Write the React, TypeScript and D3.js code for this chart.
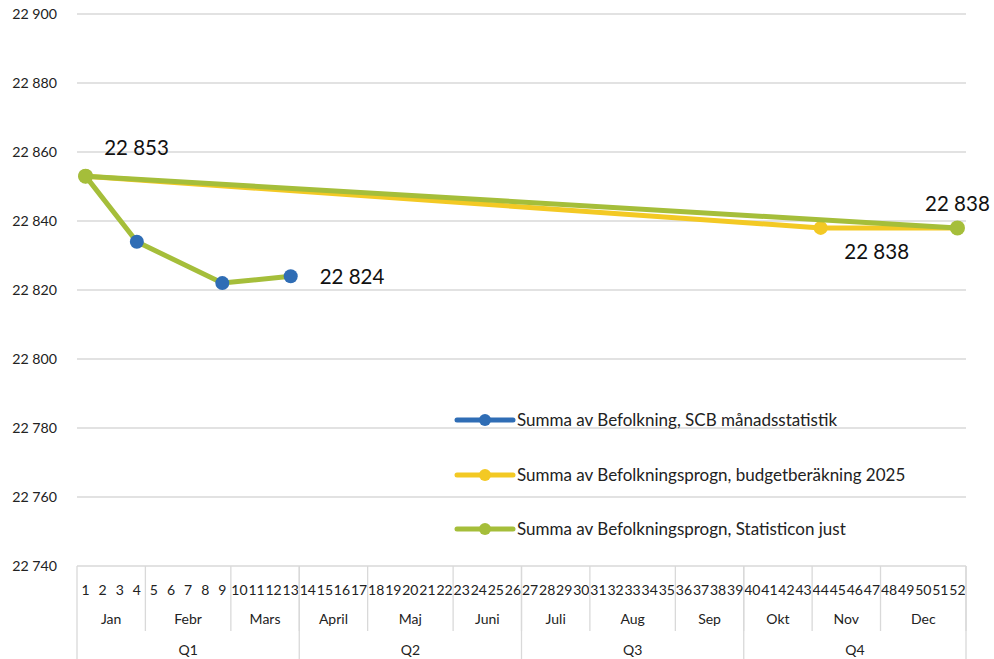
import React from "react";
import * as d3 from "d3";

const weeks = [1,2,3,4,5,6,7,8,9,10,11,12,13,14,15,16,17,18,19,20,21,22,23,24,25,26,27,28,29,30,31,32,33,34,35,36,37,38,39,40,41,42,43,44,45,46,47,48,49,50,51,52];
const months = ["Jan","Febr","Mars","April","Maj","Juni","Juli","Aug","Sep","Okt","Nov","Dec"];
const monthWeeks = [4,5,4,4,5,4,4,5,4,4,4,5];
const quarters = ["Q1","Q2","Q3","Q4"];
const quarterWeeks = [13,13,13,13];
const yTicks = [22740,22760,22780,22800,22820,22840,22860,22880,22900];

const scbWeeks = [1,4,9,13];
const scbValues = [22853,22834,22822,22824];
const budgetWeeks = [1,44,52];
const budgetValues = [22853,22838,22838];
const statWeeks = [1,52];
const statValues = [22853,22838];

const seriesNames = [
  "Summa av Befolkning, SCB månadsstatistik",
  "Summa av Befolkningsprogn, budgetberäkning 2025",
  "Summa av Befolkningsprogn, Statisticon just",
];

const BLUE = "#2F6DB5";
const YELLOW = "#F3C924";
const GREEN = "#A5BE3A";
const GRID = "#D9D9D9";
const FONT = "Lato, 'Liberation Sans', sans-serif";

const W = 994, H = 659;
const L = 77, R = 966, T = 14, B = 566;

const fmt = d3.formatLocale({ thousands: " ", grouping: [3], decimal: ",", currency: ["", ""] }).format(",d");

export default function App() {
  const x = d3.scaleBand<number>().domain(weeks).range([L, R]).padding(0);
  const y = d3.scaleLinear().domain([22740, 22900]).range([B, T]);
  const cx = (w: number) => (x(w) as number) + x.bandwidth() / 2;
  const line = d3.line<[number, number]>().x(d => cx(d[0])).y(d => y(d[1]));

  const scb = scbWeeks.map((w, i) => [w, scbValues[i]] as [number, number]);
  const bud = budgetWeeks.map((w, i) => [w, budgetValues[i]] as [number, number]);
  const sta = statWeeks.map((w, i) => [w, statValues[i]] as [number, number]);

  let acc = 0;
  const monthCells = monthWeeks.map((n, i) => {
    const start = acc; acc += n;
    return { name: months[i], x0: x(weeks[start]) as number, x1: (x(weeks[acc - 1]) as number) + x.bandwidth() };
  });
  acc = 0;
  const quarterCells = quarterWeeks.map((n, i) => {
    const start = acc; acc += n;
    return { name: quarters[i], x0: x(weeks[start]) as number, x1: (x(weeks[acc - 1]) as number) + x.bandwidth() };
  });

  const legendColors = [BLUE, YELLOW, GREEN];
  const legendY = [420, 475, 529];

  return (
    <svg width={W} height={H} style={{ position: "absolute", left: 0, top: 0, display: "block", background: "#fff" }} fontFamily={FONT}>
      <rect width={W} height={H} fill="#fff" />
      {yTicks.map(t => (
        <g key={t}>
          <line x1={L} x2={R} y1={y(t)} y2={y(t)} stroke={GRID} strokeWidth={1.3} />
          <text x={57} y={y(t)} dy="0.35em" textAnchor="end" fontSize={14.2} fill="#222">{fmt(t)}</text>
        </g>
      ))}
      {weeks.map(w => (
        <text key={w} x={cx(w)} y={595} textAnchor="middle" fontSize={14} fill="#222">{w}</text>
      ))}
      {monthCells.map(m => (
        <g key={m.name}>
          <line x1={m.x1} x2={m.x1} y1={B} y2={631} stroke={GRID} strokeWidth={1.3} />
          <text x={(m.x0 + m.x1) / 2} y={624} textAnchor="middle" fontSize={14} fill="#222">{m.name}</text>
        </g>
      ))}
      {quarterCells.map(q => (
        <g key={q.name}>
          <line x1={q.x1} x2={q.x1} y1={B} y2={H} stroke={GRID} strokeWidth={1.3} />
          <text x={(q.x0 + q.x1) / 2} y={655} textAnchor="middle" fontSize={14} fill="#222">{q.name}</text>
        </g>
      ))}
      <line x1={L} x2={L} y1={B} y2={H} stroke={GRID} strokeWidth={1.3} />

      <path d={line(scb) as string} fill="none" stroke={GREEN} strokeWidth={5} strokeLinejoin="round" />
      {scb.map(d => <circle key={"s" + d[0]} cx={cx(d[0])} cy={y(d[1])} r={7} fill={BLUE} />)}
      <path d={line(bud) as string} fill="none" stroke={YELLOW} strokeWidth={5} strokeLinejoin="round" />
      {bud.map(d => <circle key={"b" + d[0]} cx={cx(d[0])} cy={y(d[1])} r={7} fill={YELLOW} />)}
      <path d={line(sta) as string} fill="none" stroke={GREEN} strokeWidth={5} strokeLinejoin="round" />
      {sta.map(d => <circle key={"g" + d[0]} cx={cx(d[0])} cy={y(d[1])} r={7.5} fill={GREEN} />)}

      <text x={cx(statWeeks[0]) + 51} y={y(statValues[0]) - 28} dy="0.35em" textAnchor="middle" fontSize={20.5} fill="#111">{fmt(statValues[0])}</text>
      <text x={cx(scbWeeks[3]) + 29} y={y(scbValues[3]) + 1} dy="0.35em" textAnchor="start" fontSize={20.5} fill="#111">{fmt(scbValues[3])}</text>
      <text x={cx(statWeeks[1])} y={y(statValues[1]) - 24} dy="0.35em" textAnchor="middle" fontSize={20.5} fill="#111">{fmt(statValues[1])}</text>
      <text x={cx(budgetWeeks[1]) + 56} y={y(budgetValues[1]) + 24} dy="0.35em" textAnchor="middle" fontSize={20.5} fill="#111">{fmt(budgetValues[1])}</text>

      {seriesNames.map((n, i) => (
        <g key={n}>
          <line x1={457} x2={513} y1={legendY[i]} y2={legendY[i]} stroke={legendColors[i]} strokeWidth={5} strokeLinecap="round" />
          <circle cx={485} cy={legendY[i]} r={6} fill={legendColors[i]} />
          <text x={517} y={legendY[i]} dy="0.35em" fontSize={17} fill="#222">{n}</text>
        </g>
      ))}
    </svg>
  );
}
